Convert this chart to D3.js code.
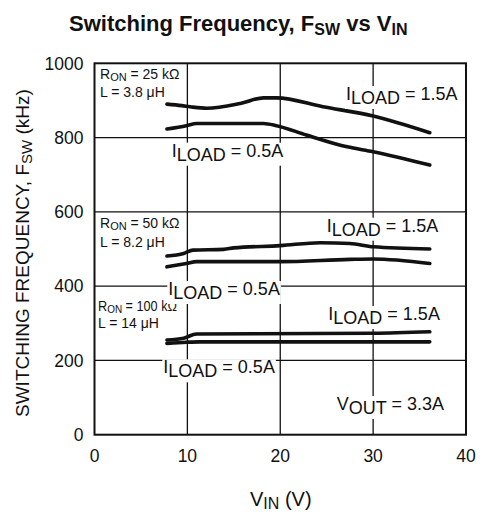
<!DOCTYPE html>
<html><head><meta charset="utf-8">
<script src="https://cdn.jsdelivr.net/npm/d3@7"></script>
<style>
html,body{margin:0;padding:0;background:#fff;}
text{font-family:"Liberation Sans",Arial,Helvetica,sans-serif;fill:#111;white-space:pre;}
</style></head>
<body><svg id="c" width="482" height="519"></svg>
<script>
// ---- data ----
const xTicks = [0, 10, 20, 30, 40];
const yTicks = [0, 200, 400, 600, 800, 1000];
// [V_IN (V), F_SW (kHz)]
const ron25_i15 = [[7.8,890],[9.4,886],[10.3,883],[12.1,879],[15.7,892],[18.2,907],[19.6,907],[24.6,883],[30,858],[36.1,813]];
const ron25_i05 = [[7.8,823],[9.9,832],[11,838],[18.2,838],[19.6,832],[22.8,807],[27.2,775],[30,762],[36.1,726]];
const ron50_i15 = [[7.8,481],[9.6,488],[10.6,497],[13.9,499],[15,503],[20,509],[24.3,517],[27.5,515],[30,506],[36.1,500]];
const ron50_i05 = [[7.8,452],[9.9,461],[11,466],[20,466],[27.5,472],[30,473],[36.1,461]];
const ron100_i15 = [[7.8,255],[9.6,260],[11,271],[30,273],[36.1,277]];
const ron100_i05 = [[7.8,246],[9.9,249],[11.3,250],[36.1,250]];
const series = [ron25_i15, ron25_i05, ron50_i15, ron50_i05, ron100_i15, ron100_i05];
const ronLabels = [["25 kΩ","3.8 μH"],["50 kΩ","8.2 μH"],["100 kΩ","14 μH"]];
const loadLabels = ["1.5A","0.5A"];
const voutLabel = "3.3A";

// ---- layout ----
const svg = d3.select("#c");
const x = d3.scaleLinear().domain([0,40]).range([94.5,466]);
const y = d3.scaleLinear().domain([0,1000]).range([434.7,63.3]);

// grid
const grid = svg.append("g").attr("stroke","#111").attr("stroke-width",1.3);
grid.selectAll("line.v").data(xTicks.slice(1,-1)).join("line")
  .attr("x1",d=>x(d)).attr("x2",d=>x(d)).attr("y1",y(1000)).attr("y2",y(0));
grid.selectAll("line.h").data(yTicks.slice(1,-1)).join("line")
  .attr("y1",d=>y(d)).attr("y2",d=>y(d)).attr("x1",x(0)).attr("x2",x(40));

// curves
const line = d3.line().x(d=>x(d[0])).y(d=>y(d[1])).curve(d3.curveMonotoneX);
svg.append("g").selectAll("path").data(series).join("path")
  .attr("d",line).attr("fill","none").attr("stroke","#111")
  .attr("stroke-width",3.6).attr("stroke-linecap","round").attr("stroke-linejoin","round");

// rich text helper
function rich(parent, px, py, parts, fs, subFs, subDy, bg, len){
  const g = parent.append("g");
  const t = g.append("text").attr("x",px).attr("y",py).attr("font-size",fs);
  let shift = 0;
  parts.forEach(p=>{
    const target = p.sub ? subDy : 0;
    t.append("tspan").attr("dy",target-shift).attr("font-size",p.sub?subFs:fs).text(p.t);
    shift = target;
  });
  if(len){ t.attr("textLength",len).attr("lengthAdjust","spacingAndGlyphs"); }
  if(bg){
    const b = t.node().getBBox();
    g.insert("rect","text").attr("x",b.x-1).attr("y",b.y+2).attr("width",b.width+2)
      .attr("height",b.height-1).attr("fill","#fff");
  }
  return t;
}

// frame
svg.append("rect").attr("x",x(0)).attr("y",y(1000)).attr("width",x(40)-x(0))
  .attr("height",y(0)-y(1000)).attr("fill","none").attr("stroke","#111").attr("stroke-width",2);

// axis tick labels
svg.append("g").selectAll("text").data(xTicks).join("text")
  .attr("x",d=>x(d)).attr("y",462).attr("text-anchor","middle").attr("font-size",17.5).text(d=>d);
svg.append("g").selectAll("text").data(yTicks).join("text")
  .attr("x",83.5).attr("y",d=>y(d)).attr("dy","0.36em").attr("text-anchor","end").attr("font-size",17.5).text(d=>d);

// title
rich(svg, 69, 31, [{t:"Switching Frequency, F"},{t:"SW",sub:true},{t:" vs V"},{t:"IN",sub:true}], 22, 16, 4, false)
  .attr("font-weight","bold");
// x label
rich(svg, 250, 506, [{t:"V"},{t:"IN",sub:true},{t:" (V)"}], 20, 16, 3, false);
// y label
const yl = svg.append("g").attr("transform","translate(29,417) rotate(-90)");
rich(yl, 0, 0, [{t:"SWITCHING FREQUENCY, F"},{t:"SW",sub:true},{t:" (kHz)"}], 19, 15, 3, false);

// R_ON / L annotations
const ronPos = [[100,79.3,96.7],[100,228.3,246.7],[98,310.7,328.3]];
ronLabels.forEach((r,i)=>{
  const [px,py1,py2] = ronPos[i];
  rich(svg, px, py1, [{t:"R"},{t:"ON",sub:true},{t:" = "+r[0]}], 14, 11, 2, false, i===2 ? 79 : null);
  rich(svg, px, py2, [{t:"L = "+r[1]}], 14, 11, 2, false);
});

// I_LOAD annotations
const loadPos = [
  [[346,100],[171.7,156.7]],
  [[326.7,231.7],[168.3,295]],
  [[328.3,320],[163.3,373.3]]
];
loadPos.forEach(pair=>{
  pair.forEach((p,j)=>{
    rich(svg, p[0], p[1], [{t:"I"},{t:"LOAD",sub:true},{t:" = "+loadLabels[j]}], 18, 18, 4, true);
  });
});
rich(svg, 336.7, 410, [{t:"V"},{t:"OUT",sub:true},{t:" = "+voutLabel}], 18, 18, 4, true);
</script></body></html>
